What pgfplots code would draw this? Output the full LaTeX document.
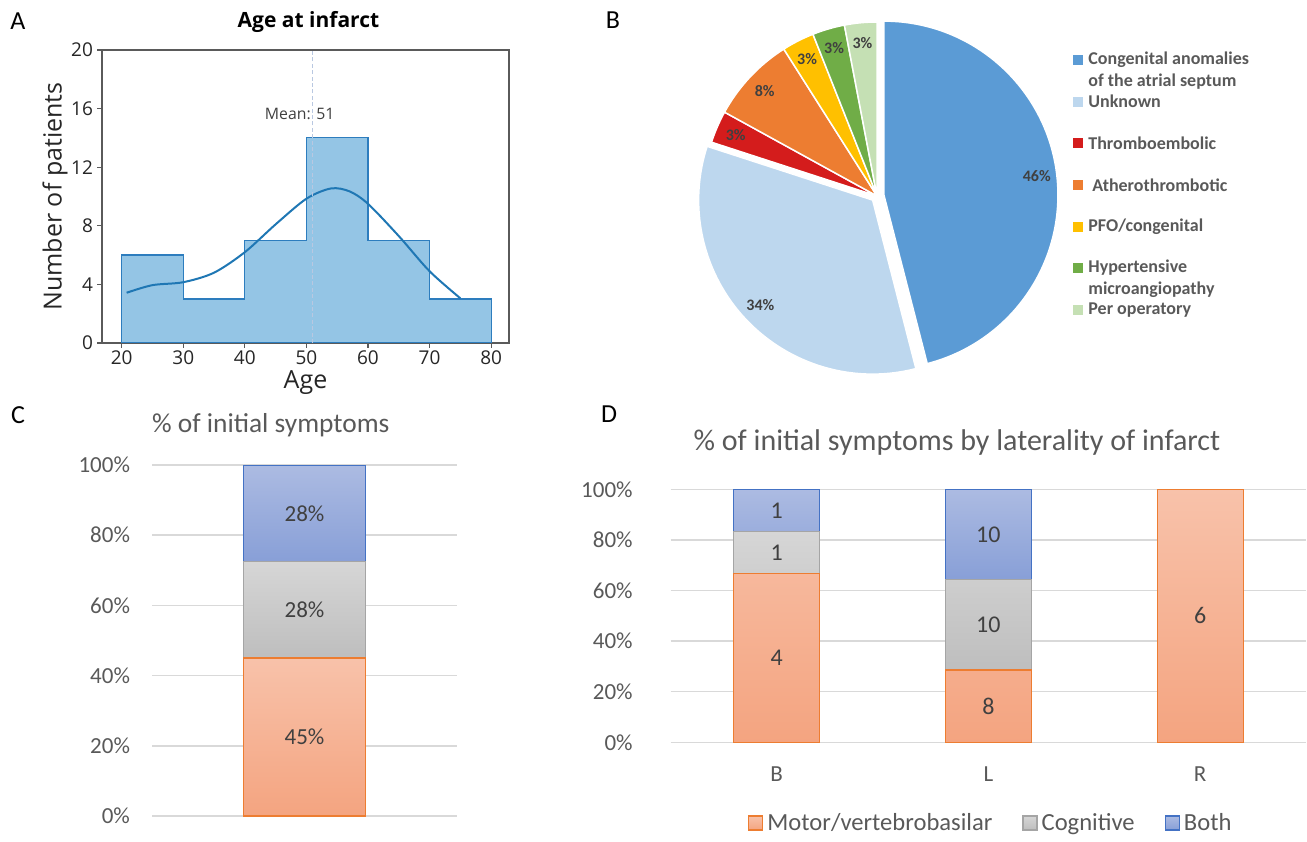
\documentclass[border=0pt]{standalone}
\usepackage{fontspec}
\setmainfont{Carlito}
\newfontfamily\osans{Open Sans}
\usepackage{pgfplots}
\pgfplotsset{compat=1.18}

% panel A
\definecolor{histFill}{RGB}{148,197,229}
\definecolor{histEdge}{RGB}{45,125,190}
\definecolor{kdeLine}{RGB}{31,119,180}
\definecolor{meanLine}{RGB}{185,200,225}
\definecolor{frameGray}{RGB}{90,90,90}
\definecolor{darkText}{RGB}{38,38,38}
% panel B
\definecolor{pBlue}{RGB}{91,155,213}
\definecolor{pLight}{RGB}{189,215,238}
\definecolor{pRed}{RGB}{212,28,28}
\definecolor{pOrange}{RGB}{237,125,49}
\definecolor{pYellow}{RGB}{255,192,0}
\definecolor{pGreen}{RGB}{112,173,71}
\definecolor{pLGreen}{RGB}{197,224,180}
\definecolor{pieText}{RGB}{64,64,64}
\definecolor{legText}{RGB}{89,89,89}
% panels C and D
\definecolor{motTop}{RGB}{248,194,170}
\definecolor{motBot}{RGB}{244,164,128}
\definecolor{motEdge}{RGB}{237,125,49}
\definecolor{cogTop}{RGB}{214,214,214}
\definecolor{cogBot}{RGB}{190,190,190}
\definecolor{cogEdge}{RGB}{165,165,165}
\definecolor{bothTop}{RGB}{172,187,226}
\definecolor{bothBot}{RGB}{136,159,215}
\definecolor{bothEdge}{RGB}{68,114,196}
\definecolor{gridGray}{RGB}{217,217,217}
\definecolor{tickGray}{RGB}{89,89,89}
\definecolor{valText}{RGB}{64,64,64}

\tikzset{
  motor/.style={top color=motTop, bottom color=motBot, draw=motEdge, line width=0.6pt},
  cog/.style={top color=cogTop, bottom color=cogBot, draw=cogEdge, line width=0.6pt},
  both/.style={top color=bothTop, bottom color=bothBot, draw=bothEdge, line width=0.6pt},
  val/.style={text=valText, font=\fontsize{12}{14}\selectfont},
}

\pgfplotsset{
  excel/.style={
    scale only axis,
    ybar stacked,
    ymin=0, ymax=100, ytick={0,20,...,100},
    yticklabel={\pgfmathprintnumber{\tick}\%},
    ymajorgrids, grid style={gridGray, line width=0.75pt},
    axis line style={draw=none}, major tick length=0pt,
    /pgf/number format/assume math mode=true,
    tick label style={font=\fontsize{11.5}{13}\selectfont, text=tickGray},
    yticklabel style={xshift=-7.5pt},
  },
  % same frame as panel C / D, only for the value labels on top of the bars
  overC/.style={at={(76pt,-408pt)}, anchor=south west, scale only axis,
    width=152.5pt, height=175.5pt, xmin=-0.5, xmax=0.5, ymin=0, ymax=100, hide axis},
  overD/.style={at={(335.35pt,-371.15pt)}, anchor=south west, scale only axis,
    width=317.65pt, height=126.5pt, xmin=-0.5, xmax=2.5, ymin=0, ymax=100, hide axis},
}

% pie: percent / colour / explode (pt)
\def\pieslices{46/pBlue/3.5, 34/pLight/3, 3/pRed/0, 8/pOrange/0, 3/pYellow/0, 3/pGreen/0, 3/pLGreen/0}

\begin{document}
\begin{tikzpicture}

% ---------- A: age histogram ----------
\begin{axis}[
  at={(51pt,-171.5pt)}, anchor=south west,
  scale only axis, width=203.5pt, height=146.5pt,
  xmin=16.8, xmax=82.9, ymin=0, ymax=20,
  xtick={20,30,...,80}, ytick={0,4,...,20},
  axis line style={frameGray, line width=0.6pt},
  tick style={frameGray, line width=0.6pt},
  tick align=outside, major tick length=2.5pt,
  xtick pos=left, ytick pos=left,
  /pgf/number format/assume math mode=true,
  tick label style={font=\osans\fontsize{9.5}{11}\selectfont, text=darkText},
  xticklabel style={yshift=2pt},
  yticklabel style={xshift=1.5pt},
  xlabel={Age}, ylabel={Number of patients},
  every axis x label/.style={at={(axis description cs:0.5,0)}, anchor=center, yshift=-19.8pt, inner sep=0pt},
  every axis y label/.style={at={(axis description cs:0,0.5)}, xshift=-23.5pt, rotate=90, anchor=center},
  label style={font=\osans\fontsize{12.5}{14}\selectfont, text=darkText},
]
\addplot[const plot, fill=histFill, draw=histEdge, line width=0.6pt]
  coordinates {(20,6) (30,3) (40,7) (50,14) (60,7) (70,3) (80,3)} \closedcycle;
\addplot[smooth, kdeLine, line width=1pt] coordinates {
  (20.8,3.43) (25,3.95) (30,4.15) (35,4.8) (40,6.2) (45,8.1) (50,9.85)
  (54,10.55) (57,10.35) (60,9.5) (65,7.3) (70,4.9) (75,3.05)};
\addplot[meanLine, line width=0.5pt, dash pattern=on 2pt off 1.2pt] coordinates {(51,0) (51,20)};
\node[font=\osans\fontsize{7.9}{9}\selectfont, text=pieText] at (axis cs:48.9,15.6) {Mean: 51};
\end{axis}

% ---------- B: pie ----------
\begin{axis}[
  at={(0pt,-417pt)}, anchor=south west,
  scale only axis, width=653.5pt, height=417pt,
  xmin=0, xmax=1307, ymin=-834, ymax=0, hide axis, clip=false,
]
\pgfplotsextra{
  \gdef\cum{0}
  \foreach \v/\c/\off in \pieslices {
    \pgfmathsetmacro\sa{90-\cum*3.6}
    \pgfmathsetmacro\ea{90-(\cum+\v)*3.6}
    \pgfmathsetmacro\ma{(\sa+\ea)/2}
    \fill[\c, draw=white, line width=0.75pt, shift={(\ma:\off pt)}]
      (axis cs:877,-196) -- ++(\sa:87pt) arc[start angle=\sa, end angle=\ea, radius=87pt] -- cycle;
    \node[font=\bfseries\fontsize{8}{9}\selectfont, text=pieText, shift={(\ma:\off pt)}]
      at ([shift={(\ma:77pt)}]axis cs:877,-196) {\v\%};
    \pgfmathsetmacro\newcum{\cum+\v}
    \xdef\cum{\newcum}
  }
}
\end{axis}

% ---------- C: initial symptoms ----------
\begin{axis}[
  excel,
  at={(76pt,-408pt)}, anchor=south west,
  width=152.5pt, height=175.5pt,
  bar width=0.4, xmin=-0.5, xmax=0.5, xtick=\empty,
]
\addplot[motor] coordinates {(0,45)};
\addplot[cog] coordinates {(0,27.5)};
\addplot[both] coordinates {(0,27.5)};
\end{axis}
\begin{axis}[overC]
\node[val, font=\fontsize{11.5}{13}\selectfont] at (axis cs:0,22.5) {45\%};
\node[val, font=\fontsize{11.5}{13}\selectfont] at (axis cs:0,58.75) {28\%};
\node[val, font=\fontsize{11.5}{13}\selectfont] at (axis cs:0,86.25) {28\%};
\end{axis}

% ---------- D: by laterality ----------
\begin{axis}[
  excel,
  at={(335.35pt,-371.15pt)}, anchor=south west,
  width=317.65pt, height=126.5pt,
  bar width=0.406, xmin=-0.5, xmax=2.5,
  xtick={0,1,2}, xticklabels={B,L,R},
  xticklabel style={yshift=-8.8pt},
  yticklabel style={xshift=-8pt},
  legend style={at={(0.5055,-0.319)}, anchor=center, draw=none, fill=none,
    legend columns=3, font=\fontsize{12.3}{14}\selectfont, text=tickGray,
    /tikz/every even column/.append style={column sep=13pt}},
  legend image code/.code={\draw[#1] (0pt,-3.5pt) rectangle (7pt,3.5pt);},
]
\addplot[motor] coordinates {(0,66.667) (1,28.571) (2,100)};
\addplot[cog] coordinates {(0,16.667) (1,35.714)};
\addplot[both] coordinates {(0,16.667) (1,35.714)};
\legend{Motor/vertebrobasilar, Cognitive, Both}
\end{axis}
\begin{axis}[overD]
\node[val] at (axis cs:0,33.33) {4};
\node[val] at (axis cs:0,75) {1};
\node[val] at (axis cs:0,91.67) {1};
\node[val] at (axis cs:1,14.29) {8};
\node[val] at (axis cs:1,46.43) {10};
\node[val] at (axis cs:1,82.14) {10};
\node[val] at (axis cs:2,50) {6};
\end{axis}

% ---------- text in pixel units ----------
\begin{scope}[x=0.5pt, y=-0.5pt]
\path[use as bounding box] (0,0) rectangle (1307,834);
\begin{scope}[every node/.style={font=\fontsize{13}{15}\selectfont}]
\node at (18,21) {A};
\node at (613,20) {B};
\node at (18,415) {C};
\node at (609,414) {D};
\end{scope}
\node[font=\osans\bfseries\fontsize{10.5}{12}\selectfont] at (308.5,21.7) {Age at infarct};
\node[font=\fontsize{13.7}{16}\selectfont, text=tickGray] at (270.8,425) {\% of initial symptoms};
\node[font=\fontsize{15}{18}\selectfont, text=tickGray] at (957,443) {\% of initial symptoms by laterality of infarct};
% pie legend
\begin{scope}[every node/.style={anchor=west, inner sep=0pt, font=\bfseries\fontsize{9}{10}\selectfont, text=legText}]
\foreach \yy/\cc in {60/pBlue, 101.7/pLight, 143/pRed, 185/pOrange, 226.7/pYellow, 268/pGreen, 310/pLGreen}
  \fill[\cc] (1073,\yy-5) rectangle (1083,\yy+5);
\node at (1088,60) {Congenital anomalies};
\node at (1088,81.7) {of the atrial septum};
\node at (1088,101.7) {Unknown};
\node at (1088,143) {Thromboembolic};
\node at (1092,185) {Atherothrombotic};
\node at (1088,226.7) {PFO/congenital};
\node at (1088,268) {Hypertensive};
\node at (1088,290) {microangiopathy};
\node at (1088,310) {Per operatory};
\end{scope}
\end{scope}

\end{tikzpicture}
\end{document}
